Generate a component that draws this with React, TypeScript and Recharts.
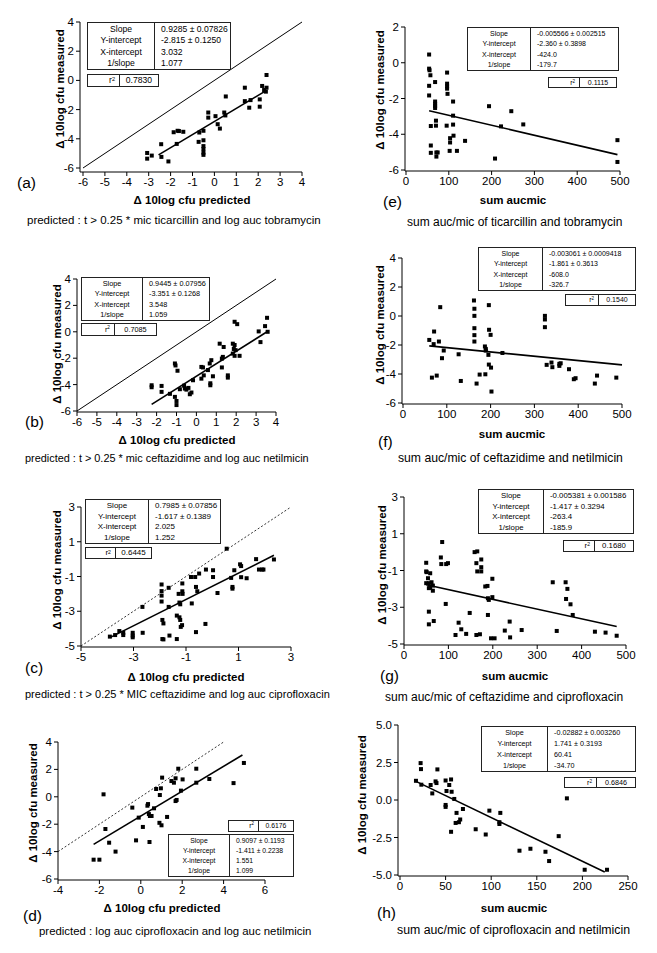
import React from 'react';
import { ScatterChart, Scatter, XAxis, YAxis, ReferenceLine } from 'recharts';

type Pt = [number, number];

const FONT = '"Liberation Sans", Arial, Helvetica, sans-serif';

// measured vs predicted (left column)
const ptsA: Pt[] = [
  [-3.07, -4.97], [-3.07, -5.36], [-2.86, -5.15], [-2.43, -4.37], [-2.42, -5.24], [-2.1, -5.55],
  [-1.86, -3.55], [-1.68, -3.45], [-1.62, -3.47], [-1.42, -3.52], [-1.72, -4.35], [-0.72, -4.21],
  [-0.69, -3.57], [-0.5, -3.45], [-0.5, -4.1], [-0.5, -4.5], [-0.5, -4.7], [-0.5, -4.95], [-0.5, -5.1],
  [-0.28, -2.2], [-0.28, -2.55], [0.05, -2.45], [0.15, -3.0], [0.25, -3.3], [0.45, -2.2], [0.52, -1.1],
  [0.5, -2.4], [1.39, -0.5], [1.39, -1.42], [1.65, -1.35], [1.59, -1.87], [2.07, -1.3], [2.07, -1.8],
  [2.18, -0.38], [2.27, -0.66], [2.35, -0.77], [2.38, -0.5], [2.38, 0.37],
];
const fitA: Pt[] = [[-2.55, -5.1], [2.38, -0.68]];
const identA: Pt[] = [[-6, -6], [4, 4]];

const ptsB: Pt[] = [
  [-2.25, -4.05], [-2.25, -4.2], [-1.75, -4.1], [-1.75, -4.55], [-1.33, -4.7], [-1.08, -2.4],
  [-1.05, -2.55], [-0.95, -2.95], [-1.08, -4.93], [-1.0, -5.24], [-1.0, -5.55], [-0.83, -4.35],
  [-0.62, -4.08], [-0.58, -4.3], [-0.5, -4.38], [-0.4, -4.25], [-0.33, -4.73], [-0.25, -4.6],
  [-0.17, -3.67], [0.25, -2.66], [0.33, -2.7], [0.25, -3.55], [0.37, -3.3], [0.58, -2.9], [0.67, -2.4],
  [0.75, -2.15], [0.7, -3.9], [0.7, -4.05], [0.83, -3.37], [1.17, -0.9], [1.37, -1.15], [1.28, -2.03],
  [1.33, -1.9], [1.28, -2.7], [1.58, -3.3], [1.58, -3.47], [1.83, -0.9], [1.92, -1.0], [1.88, -1.3],
  [1.97, -1.39], [1.83, -1.65], [1.92, -1.82], [2.17, -1.82], [1.92, 0.76], [2.05, 0.58], [3.13, 0.03],
  [3.22, -0.78], [3.45, 0.43], [3.55, 1.06], [3.58, 0],
];
const fitB: Pt[] = [[-2.25, -5.5], [3.55, 0]];
const identB: Pt[] = [[-6, -6], [4, 4]];

const ptsC: Pt[] = [
  [-3.9, -4.46], [-3.7, -4.37], [-3.54, -4.14], [-3.39, -4.24], [-3.39, -4.37], [-3.03, -4.24],
  [-3.03, -4.5], [-3.03, -4.4], [-2.66, -2.75], [-2.65, -4.24], [-1.93, -1.46], [-1.93, -1.84],
  [-1.93, -2.1], [-1.93, -2.44], [-1.9, -3.5], [-1.86, -3.7], [-1.9, -4.6], [-1.86, -4.62],
  [-1.66, -1.65], [-1.66, -2.75], [-1.63, -4.4], [-1.35, -3.25], [-1.35, -4.6], [-1.28, -2.0],
  [-1.25, -2.5], [-1.22, -2.6], [-1.25, -3.35], [-1.22, -3.5], [-1.2, -3.9], [-1.15, -3.8],
  [-1.14, -1.4], [-1.14, -1.85], [-1.13, -2.0], [-0.81, -1.03], [-0.78, -2.55], [-0.65, -1.03],
  [-0.62, -1.6], [-0.57, -1.85], [-0.5, -0.83], [-0.62, -4.2], [-0.26, -3.73], [-0.24, -0.6],
  [0.03, -0.64], [0.03, -1.03], [0.2, -1.95], [0.55, 0.6], [0.72, -1.08], [0.77, -1.6], [0.77, -1.7],
  [0.84, -0.64], [1.06, -0.3], [1.1, -0.4], [1.1, -1.04], [1.31, -1.1], [1.67, 0.0], [1.78, -0.6],
  [1.9, -0.6], [1.95, -0.6], [2.35, -0.02],
];
const fitC: Pt[] = [[-3.9, -4.52], [2.35, 0.22]];
const identC: Pt[] = [[-5, -5], [3, 3]];

const ptsD: Pt[] = [
  [-2.28, -4.59], [-2.0, -4.59], [-1.8, 0.18], [-1.71, -2.35], [-1.53, -3.35], [-1.22, -4.0],
  [-0.41, -0.79], [-0.23, -3.18], [-0.1, -1.52], [0.1, -2.2], [0.32, -0.65], [0.35, -0.53],
  [0.39, -1.26], [0.44, -1.4], [0.52, -1.4], [0.42, -3.3], [0.64, -0.84], [0.74, 0.57], [0.92, 0.13],
  [0.97, 0.62], [0.9, -1.9], [1.0, -2.08], [1.03, 1.4], [1.27, -1.47], [1.48, 1.15], [1.6, 1.03],
  [1.68, 1.35], [1.68, -0.31], [1.73, -0.23], [1.81, 2.05], [1.94, 0.45], [2.02, 1.27], [2.68, 2.05],
  [2.68, 1.03], [3.31, 1.3], [4.48, 1.0], [4.98, 2.47],
];
const fitD: Pt[] = [[-2.28, -3.47], [4.91, 3.05]];
const identD: Pt[] = [[-4, -4], [4, 4]];

// measured vs sum auc/mic (right column)
const ptsE: Pt[] = [
  [54, 0.46], [54, -0.33], [55, -0.42], [57, -0.7], [54, -1.29], [54, -1.83], [58, -3.54], [58, -4.63],
  [58, -5.04], [68, -1.08], [68, -2.17], [68, -2.3], [68, -2.42], [68, -2.53], [70, -3.24], [70, -3.52],
  [71, -5.02], [74, -5.02], [71, -5.25], [96, -0.55], [96, -1.17], [96, -1.32], [96, -1.45], [97, -1.74],
  [95, -3.52], [110, -2.17], [110, -2.96], [110, -3.46], [111, -4.08], [103, -4.22], [103, -4.46],
  [102, -4.93], [119, -4.93], [138, -4.37], [194, -2.43], [208, -5.36], [222, -3.56], [246, -2.71],
  [274, -3.45], [494, -4.33], [494, -5.55],
];
const fitE: Pt[] = [[54, -2.68], [494, -5.14]];

const ptsF: Pt[] = [
  [60, -1.65], [66, -4.25], [71, -1.07], [70, -1.94], [77, -4.11], [82, -1.76], [85, 0.61], [89, -2.91],
  [93, -2.38], [127, -2.64], [132, -4.48], [162, 1.07], [163, 0.5], [163, 0.01], [163, -0.84],
  [163, -1.32], [163, -1.76], [168, -4.66], [175, -4.04], [187, -2.1], [189, -2.27], [189, -2.38],
  [188, -4.02], [196, 0.75], [196.5, -0.95], [195, -2.68], [196, -3.35], [201, -3.56], [200, -1.3],
  [227, -2.55], [202, -5.21], [324, 0.01], [324, -0.24], [324, -0.77], [328, -3.37], [339, -3.21],
  [341, -3.53], [357, -3.3], [357, -3.44], [360, -3.26], [379, -3.67], [390, -4.36], [394, -4.29],
  [438, -4.66], [443, -4.11], [487, -4.25],
];
const fitF: Pt[] = [[60, -2.06], [500, -3.37]];

const ptsG: Pt[] = [
  [50, -0.58], [50, -1.05], [51, -1.09], [59, -1.15], [54, -1.42], [50, -1.69], [56, -1.69], [62, -1.64],
  [56, -1.96], [59, -1.93], [65, -1.82], [65, -2.1], [56, -3.24], [56, -3.93], [67, -3.75], [86, 0.55],
  [83, -0.29], [84, -0.65], [95, -0.65], [99, -0.6], [94, -2.82], [116, -4.51], [123, -3.84],
  [129, -4.2], [140, -4.45], [148, -3.31], [159, 0.0], [165, 0.04], [163, -0.6], [165, -1.05],
  [174, -0.4], [174, -0.82], [174, -1.05], [163, -4.51], [171, -4.47], [183, -1.87], [188, -1.84],
  [189, -2.51], [191, -2.6], [189, -3.42], [199, -1.45], [199, -2.45], [196, -4.69], [204, -4.69],
  [227, -4.27], [238, -3.78], [239, -4.64], [265, -4.24], [335, -1.64], [344, -4.29], [364, -1.64],
  [368, -2.0], [365, -2.55], [375, -2.84], [380, -3.42], [430, -4.33], [454, -4.38], [479, -4.55],
];
const fitG: Pt[] = [[50, -1.78], [479, -4.05]];

const ptsH: Pt[] = [
  [17.5, 1.28], [22.6, 2.46], [23, 2.06], [23.4, 1.02], [33.6, 1.0], [35.4, 0.44], [39, 1.24], [40, 1.13],
  [41, 2.04], [50, 1.3], [51, 0.6], [50, -0.33], [50, -0.46], [54, 1.0], [56, 1.37], [56.6, 0.55],
  [56, -2.12], [59.5, 0.07], [62, -0.86], [61, -1.53], [64.6, -1.48], [66, -1.3], [69, -0.6], [83, -1.95],
  [94, -2.3], [98, -0.71], [109, -1.48], [109, -1.6], [110, -0.86], [131, -3.38], [143, -3.25],
  [159.5, -3.45], [163.5, -4.07], [174, -2.41], [183, 0.11], [202.5, -4.65], [227, -4.65],
];
const fitH: Pt[] = [[17.5, 1.24], [224.5, -4.8]];

// axis ticks
const ticksPred10 = [-6, -5, -4, -3, -2, -1, 0, 1, 2, 3, 4];
const ticksMeas6 = [-6, -4, -2, 0, 2, 4];
const ticksOdd = [-5, -3, -1, 1, 3];
const ticksPredD = [-4, -2, 0, 2, 4, 6];
const ticksSum500 = [0, 100, 200, 300, 400, 500];
const ticksSum250 = [0, 50, 100, 150, 200, 250];
const ticksMeasE = [-6, -4, -2, 0, 2];
const ticksMeasH = [-5, -2.5, 0, 2.5, 5];

// regression tables
const statLabels = ['Slope', 'Y-intercept', 'X-intercept', '1/slope'];
const statsA = ['0.9285 ± 0.07826', '-2.815 ± 0.1250', '3.032', '1.077'];
const statsB = ['0.9445 ± 0.07956', '-3.351 ± 0.1268', '3.548', '1.059'];
const statsC = ['0.7985 ± 0.07856', '-1.617 ± 0.1389', '2.025', '1.252'];
const statsD = ['0.9097 ± 0.1193', '-1.411 ± 0.2238', '1.551', '1.099'];
const statsE = ['-0.005566 ± 0.002515', '-2.360 ± 0.3898', '-424.0', '-179.7'];
const statsF = ['-0.003061 ± 0.0009418', '-1.861 ± 0.3613', '-608.0', '-326.7'];
const statsG = ['-0.005381 ± 0.001586', '-1.417 ± 0.3294', '-263.4', '-185.9'];
const statsH = ['-0.02882 ± 0.003260', '1.741 ± 0.3193', '60.41', '-34.70'];

const PRED = 'Δ 10log cfu predicted';
const MEAS = 'Δ 10log cfu measured';
const SUM = 'sum aucmic';

interface Box { left: number; top: number; w: number; h: number; div: number }

interface PanelCfg {
  tag: string;
  axisX: number; axisY: number; plotRight: number; plotTop: number;
  padL: number; padB: number;
  xDomain: [number, number]; xTicks: number[];
  yDomain: [number, number]; yTicks: number[];
  pts: Pt[]; fit: Pt[]; ident?: Pt[]; dotted?: boolean;
  yFmt?: (v: number) => string;
  yTitle: [number, number]; xTitle: [number, number]; xLabel: string;
  tagPos: [number, number]; caption: string; capPos: [number, number]; capSize: number;
  stats: string[]; r2: string; table: Box; r2Box: Box; statSize: number;
}

const Square = (p: any) => <rect x={p.cx - 2} y={p.cy - 2} width={4} height={4} fill="#000" />;

const YW = 36, XH = 24, MT = 8, MR = 10;

function StatTable({ box, rows, fs }: { box: Box; rows: string[]; fs: number }) {
  return (
    <div style={{ position: 'absolute', left: box.left, top: box.top, width: box.w, height: box.h,
      border: '1px solid #222', boxSizing: 'border-box', background: '#fff', display: 'flex', fontSize: fs }}>
      <div style={{ width: box.div, borderRight: '1px solid #222', display: 'flex', flexDirection: 'column', justifyContent: 'space-around' }}>
        {statLabels.map((l) => <div key={l} style={{ textAlign: 'center' }}>{l}</div>)}
      </div>
      <div style={{ flex: 1, display: 'flex', flexDirection: 'column', justifyContent: 'space-around', paddingLeft: 6 }}>
        {rows.map((r, i) => <div key={i} style={{ whiteSpace: 'nowrap' }}>{r}</div>)}
      </div>
    </div>
  );
}

function R2Table({ box, value, fs }: { box: Box; value: string; fs: number }) {
  return (
    <div style={{ position: 'absolute', left: box.left, top: box.top, width: box.w, height: box.h,
      border: '1px solid #222', boxSizing: 'border-box', background: '#fff', display: 'flex', fontSize: fs, lineHeight: `${box.h - 2}px` }}>
      <div style={{ width: box.div, borderRight: '1px solid #222', textAlign: 'right', paddingRight: 4, boxSizing: 'border-box' }}>
        r<sup style={{ fontSize: fs * 0.65, verticalAlign: 'top', lineHeight: `${fs}px` }}>2</sup>
      </div>
      <div style={{ flex: 1, textAlign: 'center' }}>{value}</div>
    </div>
  );
}

function Panel({ c }: { c: PanelCfg }) {
  const data = c.pts.map(([x, y]) => ({ x, y }));
  const w = YW + c.plotRight - c.axisX + MR;
  const h = MT + c.axisY - c.plotTop + XH;
  const tickStyle = { fill: '#000', fontSize: 11.5, fontFamily: FONT };
  return (
    <>
      <div style={{ position: 'absolute', left: c.axisX - YW, top: c.plotTop - MT }}>
        <ScatterChart width={w} height={h} margin={{ top: MT, right: MR, left: 0, bottom: 0 }}>
          <XAxis type="number" dataKey="x" domain={c.xDomain} ticks={c.xTicks} interval={0}
            padding={{ left: c.padL, right: 0 }} height={XH} allowDataOverflow
            tick={tickStyle} tickSize={4} axisLine={{ stroke: '#000' }} tickLine={{ stroke: '#000' }} />
          <YAxis type="number" dataKey="y" domain={c.yDomain} ticks={c.yTicks} interval={0}
            padding={{ top: 0, bottom: c.padB }} width={YW} allowDataOverflow tickFormatter={c.yFmt}
            tick={tickStyle} tickSize={4} axisLine={{ stroke: '#000' }} tickLine={{ stroke: '#000' }} />
          {c.ident && (
            <ReferenceLine segment={c.ident.map(([x, y]) => ({ x, y }))} stroke="#000"
              strokeWidth={c.dotted ? 0.8 : 1} strokeDasharray={c.dotted ? '2 2' : undefined} ifOverflow="visible" />
          )}
          <ReferenceLine segment={c.fit.map(([x, y]) => ({ x, y }))} stroke="#000" strokeWidth={1.6} ifOverflow="visible" />
          <Scatter data={data} shape={Square} fill="#000" isAnimationActive={false} />
        </ScatterChart>
      </div>
      <div style={{ position: 'absolute', left: c.yTitle[0], top: c.yTitle[1], transform: 'translate(-50%, -50%) rotate(-90deg)',
        whiteSpace: 'nowrap', fontWeight: 'bold', fontSize: 11.5 }}>{MEAS}</div>
      <div style={{ position: 'absolute', left: c.xTitle[0], top: c.xTitle[1], transform: 'translate(-50%, -50%)',
        whiteSpace: 'nowrap', fontWeight: 'bold', fontSize: 11.5 }}>{c.xLabel}</div>
      <div style={{ position: 'absolute', left: c.tagPos[0], top: c.tagPos[1] - 10, fontSize: 15.5, lineHeight: '20px' }}>{c.tag}</div>
      <div style={{ position: 'absolute', left: c.capPos[0], top: c.capPos[1] - 8, fontSize: c.capSize, lineHeight: '16px', whiteSpace: 'nowrap' }}>{c.caption}</div>
      <StatTable box={c.table} rows={c.stats} fs={c.statSize} />
      <R2Table box={c.r2Box} value={c.r2} fs={c.statSize} />
    </>
  );
}

const panels: PanelCfg[] = [
  {
    tag: '(a)', axisX: 80, axisY: 172, plotRight: 302, plotTop: 22, padL: 3, padB: 4,
    xDomain: [-6, 4], xTicks: ticksPred10, yDomain: [-6, 4], yTicks: ticksMeas6,
    pts: ptsA, fit: fitA, ident: identA,
    yTitle: [60, 89], xTitle: [192, 200], xLabel: PRED, tagPos: [17, 183],
    caption: 'predicted : t > 0.25 * mic ticarcillin and log auc tobramycin', capPos: [27, 220], capSize: 11.5,
    stats: statsA, r2: '0.7830', statSize: 8.6,
    table: { left: 87, top: 22, w: 144, h: 48, div: 66 }, r2Box: { left: 87, top: 74, w: 72, h: 13, div: 32 },
  },
  {
    tag: '(b)', axisX: 77, axisY: 412, plotRight: 276, plotTop: 279, padL: 0, padB: 1,
    xDomain: [-6, 4], xTicks: ticksPred10, yDomain: [-6, 4], yTicks: ticksMeas6,
    pts: ptsB, fit: fitB, ident: identB,
    yTitle: [57, 344], xTitle: [177, 440], xLabel: PRED, tagPos: [25, 422],
    caption: 'predicted : t > 0.25 * mic ceftazidime and log auc netilmicin', capPos: [25, 458], capSize: 10.9,
    stats: statsB, r2: '0.7085', statSize: 7.3,
    table: { left: 81, top: 277, w: 129, h: 44, div: 60 }, r2Box: { left: 81, top: 323, w: 76, h: 13, div: 33 },
  },
  {
    tag: '(c)', axisX: 81, axisY: 647, plotRight: 291, plotTop: 507, padL: 0, padB: 1,
    xDomain: [-5, 3], xTicks: ticksOdd, yDomain: [-5, 3], yTicks: ticksOdd,
    pts: ptsC, fit: fitC, ident: identC, dotted: true,
    yTitle: [57, 570], xTitle: [186, 677], xLabel: PRED, tagPos: [25, 668],
    caption: 'predicted : t > 0.25 * MIC ceftazidime and log auc ciprofloxacin', capPos: [25, 694], capSize: 11,
    stats: statsC, r2: '0.6445', statSize: 8,
    table: { left: 85, top: 499, w: 136, h: 45, div: 62 }, r2Box: { left: 85, top: 547, w: 67, h: 12, div: 30 },
  },
  {
    tag: '(d)', axisX: 58, axisY: 880, plotRight: 265, plotTop: 742, padL: 0, padB: 1,
    xDomain: [-4, 6], xTicks: ticksPredD, yDomain: [-6, 4], yTicks: ticksMeas6,
    pts: ptsD, fit: fitD, ident: identD, dotted: true,
    yTitle: [33, 803], xTitle: [162, 908], xLabel: PRED, tagPos: [23, 916],
    caption: 'predicted : log auc ciprofloxacin and log auc netilmicin', capPos: [39, 931], capSize: 11.4,
    stats: statsD, r2: '0.6176', statSize: 6.8,
    table: { left: 168, top: 834, w: 126, h: 43, div: 60 }, r2Box: { left: 228, top: 820, w: 66, h: 12, div: 30 },
  },
  {
    tag: '(e)', axisX: 405, axisY: 171, plotRight: 620, plotTop: 27, padL: 1, padB: 1,
    xDomain: [0, 500], xTicks: ticksSum500, yDomain: [-6, 2], yTicks: ticksMeasE,
    pts: ptsE, fit: fitE,
    yTitle: [380, 90], xTitle: [513, 200], xLabel: SUM, tagPos: [383, 202],
    caption: 'sum auc/mic of ticarcillin and tobramycin', capPos: [407, 222], capSize: 12,
    stats: statsE, r2: '0.1115', statSize: 7,
    table: { left: 467, top: 27, w: 152, h: 44, div: 62 }, r2Box: { left: 548, top: 77, w: 69, h: 11, div: 31 },
  },
  {
    tag: '(f)', axisX: 402, axisY: 404, plotRight: 622, plotTop: 258, padL: 1, padB: 1,
    xDomain: [0, 500], xTicks: ticksSum500, yDomain: [-6, 4], yTicks: ticksMeas6,
    pts: ptsF, fit: fitF,
    yTitle: [380, 325], xTitle: [512, 434], xLabel: SUM, tagPos: [378, 442],
    caption: 'sum auc/mic of ceftazidime and netilmicin', capPos: [398, 458], capSize: 12.2,
    stats: statsF, r2: '0.1540', statSize: 7,
    table: { left: 478, top: 247, w: 158, h: 44, div: 63 }, r2Box: { left: 565, top: 294, w: 71, h: 12, div: 33 },
  },
  {
    tag: '(g)', axisX: 404, axisY: 645, plotRight: 626, plotTop: 497, padL: 0, padB: 1,
    xDomain: [0, 500], xTicks: ticksSum500, yDomain: [-5, 3], yTicks: ticksOdd,
    pts: ptsG, fit: fitG,
    yTitle: [382, 565], xTitle: [515, 676], xLabel: SUM, tagPos: [380, 676],
    caption: 'sum auc/mic of ceftazidime and ciprofloxacin', capPos: [385, 697], capSize: 12,
    stats: statsG, r2: '0.1680', statSize: 7.8,
    table: { left: 478, top: 489, w: 156, h: 45, div: 64 }, r2Box: { left: 563, top: 540, w: 71, h: 12, div: 31 },
  },
  {
    tag: '(h)', axisX: 398, axisY: 876, plotRight: 628, plotTop: 725, padL: 2, padB: 1,
    xDomain: [0, 250], xTicks: ticksSum250, yDomain: [-5, 5], yTicks: ticksMeasH,
    pts: ptsH, fit: fitH, yFmt: (v) => v.toFixed(1),
    yTitle: [362, 795], xTitle: [514, 908], xLabel: SUM, tagPos: [377, 913],
    caption: 'sum auc/mic of ciprofloxacin and netilmicin', capPos: [397, 930], capSize: 12.3,
    stats: statsH, r2: '0.6846', statSize: 7.2,
    table: { left: 481, top: 726, w: 155, h: 46, div: 65 }, r2Box: { left: 564, top: 777, w: 72, h: 11, div: 32 },
  },
];

export default function App() {
  return (
    <div style={{ position: 'absolute', left: 0, top: 0, width: 657, height: 953, background: '#fff',
      fontFamily: FONT, color: '#000', overflow: 'hidden' }}>
      {panels.map((c) => <Panel key={c.tag} c={c} />)}
    </div>
  );
}
